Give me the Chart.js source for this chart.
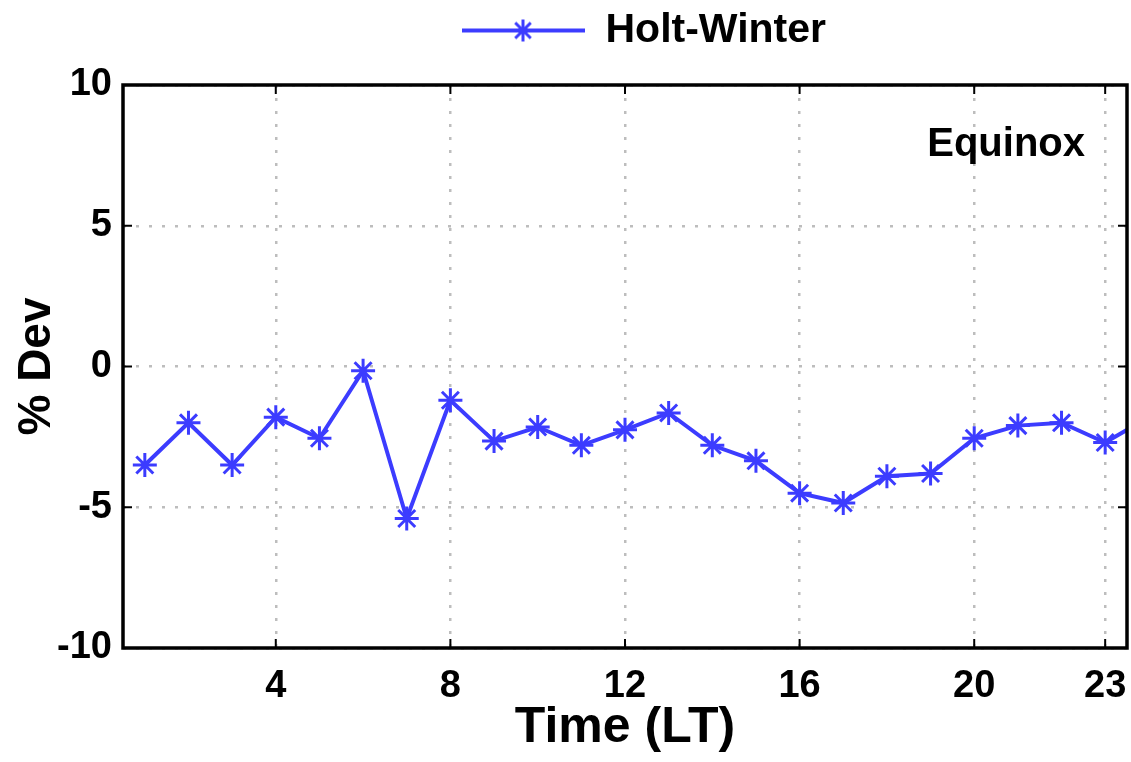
<!DOCTYPE html>
<html>
<head>
<meta charset="utf-8">
<title>Holt-Winter % Dev - Equinox</title>
<script src="https://cdn.jsdelivr.net/npm/chart.js@4.4.0/dist/chart.umd.min.js"></script>
<style>
  html, body { margin: 0; padding: 0; background: #fff; }
  #wrap { width: 1131px; height: 762px; }
</style>
</head>
<body>
<div id="wrap"><canvas id="devChart" width="1131" height="762"></canvas></div>
<script>
// hours in local time (the 24 h point lies past the axis end, only its segment shows)
const hours = [1, 2, 3, 4, 5, 6, 7, 8, 9, 10, 11, 12, 13, 14, 15, 16, 17, 18, 19, 20, 21, 22, 23, 24];
const devValues = [-3.5, -2.0, -3.5, -1.8, -2.55, -0.15, -5.4, -1.2, -2.65, -2.15, -2.8, -2.25,
                   -1.65, -2.8, -3.35, -4.5, -4.85, -3.9, -3.8, -2.55, -2.1, -2.0, -2.7, -1.8];
const xTickValues = [4, 8, 12, 16, 20, 23];
const yTickValues = [-10, -5, 0, 5, 10];
const seriesLabel = "Holt-Winter";
const panelLabel = "Equinox";

const FONT = "'Liberation Sans', Arial, Helvetica, sans-serif";
const BLUE = "rgb(60, 60, 255)";

// legend swatch: line with a star marker in the middle (left part kept blank as offset)
function makeSwatch() {
    let c = document.createElement("canvas");
    c.width = 161;
    c.height = 30;
    let g = c.getContext("2d");
    g.strokeStyle = BLUE;
    g.lineWidth = 4;
    g.beginPath();
    g.moveTo(38, 15);
    g.lineTo(161, 15);
    g.stroke();
    let cx = 38 + 61, cy = 15, r = 11;
    g.lineWidth = 3;
    g.beginPath();
    for (let k = 0; k < 4; k++) {
        let a = k * Math.PI / 4;
        g.moveTo(cx - r * Math.cos(a), cy - r * Math.sin(a));
        g.lineTo(cx + r * Math.cos(a), cy + r * Math.sin(a));
    }
    g.stroke();
    return c;
}

// frame, inward tick marks and the panel text
const boxPlugin = {
    id: "boxPlugin",
    afterDatasetsDraw(chart) {
        let ctx = chart.ctx;
        let a = chart.chartArea;
        let xs = chart.scales.x, ys = chart.scales.y;
        ctx.save();
        ctx.strokeStyle = "#000";
        ctx.lineWidth = 2;
        ctx.beginPath();
        xTickValues.forEach(v => {
            let px = xs.getPixelForValue(v);
            ctx.moveTo(px, a.bottom); ctx.lineTo(px, a.bottom - 9);
            ctx.moveTo(px, a.top); ctx.lineTo(px, a.top + 9);
        });
        yTickValues.forEach(v => {
            let py = ys.getPixelForValue(v);
            ctx.moveTo(a.left, py); ctx.lineTo(a.left + 9, py);
            ctx.moveTo(a.right, py); ctx.lineTo(a.right - 9, py);
        });
        ctx.stroke();
        ctx.lineWidth = 3.5;
        ctx.strokeRect(a.left, a.top, a.right - a.left, a.bottom - a.top);

        ctx.fillStyle = "#000";
        ctx.font = "bold 40px " + FONT;
        ctx.textAlign = "right";
        ctx.textBaseline = "middle";
        ctx.fillText(panelLabel, a.right - 42, 145);
        ctx.restore();
    }
};

let ctx = document.getElementById("devChart").getContext("2d");
window.devChartInstance = new Chart(ctx, {
    type: "line",
    data: {
        datasets: [{
            label: seriesLabel,
            data: hours.map((h, i) => ({ x: h, y: devValues[i] })),
            borderColor: BLUE,
            backgroundColor: BLUE,
            borderWidth: 4,
            pointStyle: "star",
            pointRadius: 12,
            pointBorderWidth: 3,
            pointBorderColor: BLUE,
            tension: 0
        }]
    },
    options: {
        responsive: false,
        animation: false,
        devicePixelRatio: 1,
        layout: {
            autoPadding: false, // keep point overflow from shrinking the plot box
            padding: { top: 0, left: 0, right: 4, bottom: 0 }
        },
        plugins: {
            tooltip: { enabled: false },
            legend: {
                position: "top",
                fullSize: false,
                labels: {
                    usePointStyle: true,
                    pointStyle: makeSwatch(),
                    pointStyleWidth: 161,
                    padding: 10,
                    color: "#000",
                    font: { family: FONT, size: 41, weight: "bold" }
                }
            }
        },
        scales: {
            x: {
                type: "linear",
                min: 0.5,
                max: 23.5,
                afterBuildTicks: s => { s.ticks = xTickValues.map(v => ({ value: v })); },
                afterFit: s => { s.height = 114; },
                grid: {
                    display: true,
                    color: "#bdbdbd",
                    lineWidth: 2.5,
                    drawTicks: true,
                    tickLength: 16,
                    tickColor: "rgba(0,0,0,0)"
                },
                border: { display: false, dash: [3, 10] },
                ticks: {
                    padding: 0,
                    color: "#000",
                    font: { family: FONT, size: 38, weight: "bold" }
                },
                title: {
                    display: true,
                    text: "Time (LT)",
                    color: "#000",
                    padding: { top: 0, bottom: 4 },
                    font: { family: FONT, size: 50, weight: "bold" }
                }
            },
            xTop: {
                type: "linear",
                position: "top",
                min: 0.5,
                max: 23.5,
                afterFit: s => { s.height = 24; },
                grid: { display: false },
                border: { display: false },
                ticks: { display: false }
            },
            y: {
                min: -10,
                max: 10,
                afterBuildTicks: s => { s.ticks = yTickValues.map(v => ({ value: v })); },
                afterFit: s => { s.width = 123; },
                grid: {
                    display: true,
                    color: "#bdbdbd",
                    lineWidth: 2.5,
                    drawTicks: false
                },
                border: { display: false, dash: [3, 10] },
                ticks: {
                    padding: 11,
                    color: "#000",
                    font: { family: FONT, size: 38, weight: "bold" }
                },
                title: {
                    display: true,
                    text: "% Dev",
                    color: "#000",
                    padding: { top: 10, bottom: 0 },
                    font: { family: FONT, size: 46, weight: "bold" }
                }
            }
        }
    },
    plugins: [boxPlugin]
});
</script>
</body>
</html>
